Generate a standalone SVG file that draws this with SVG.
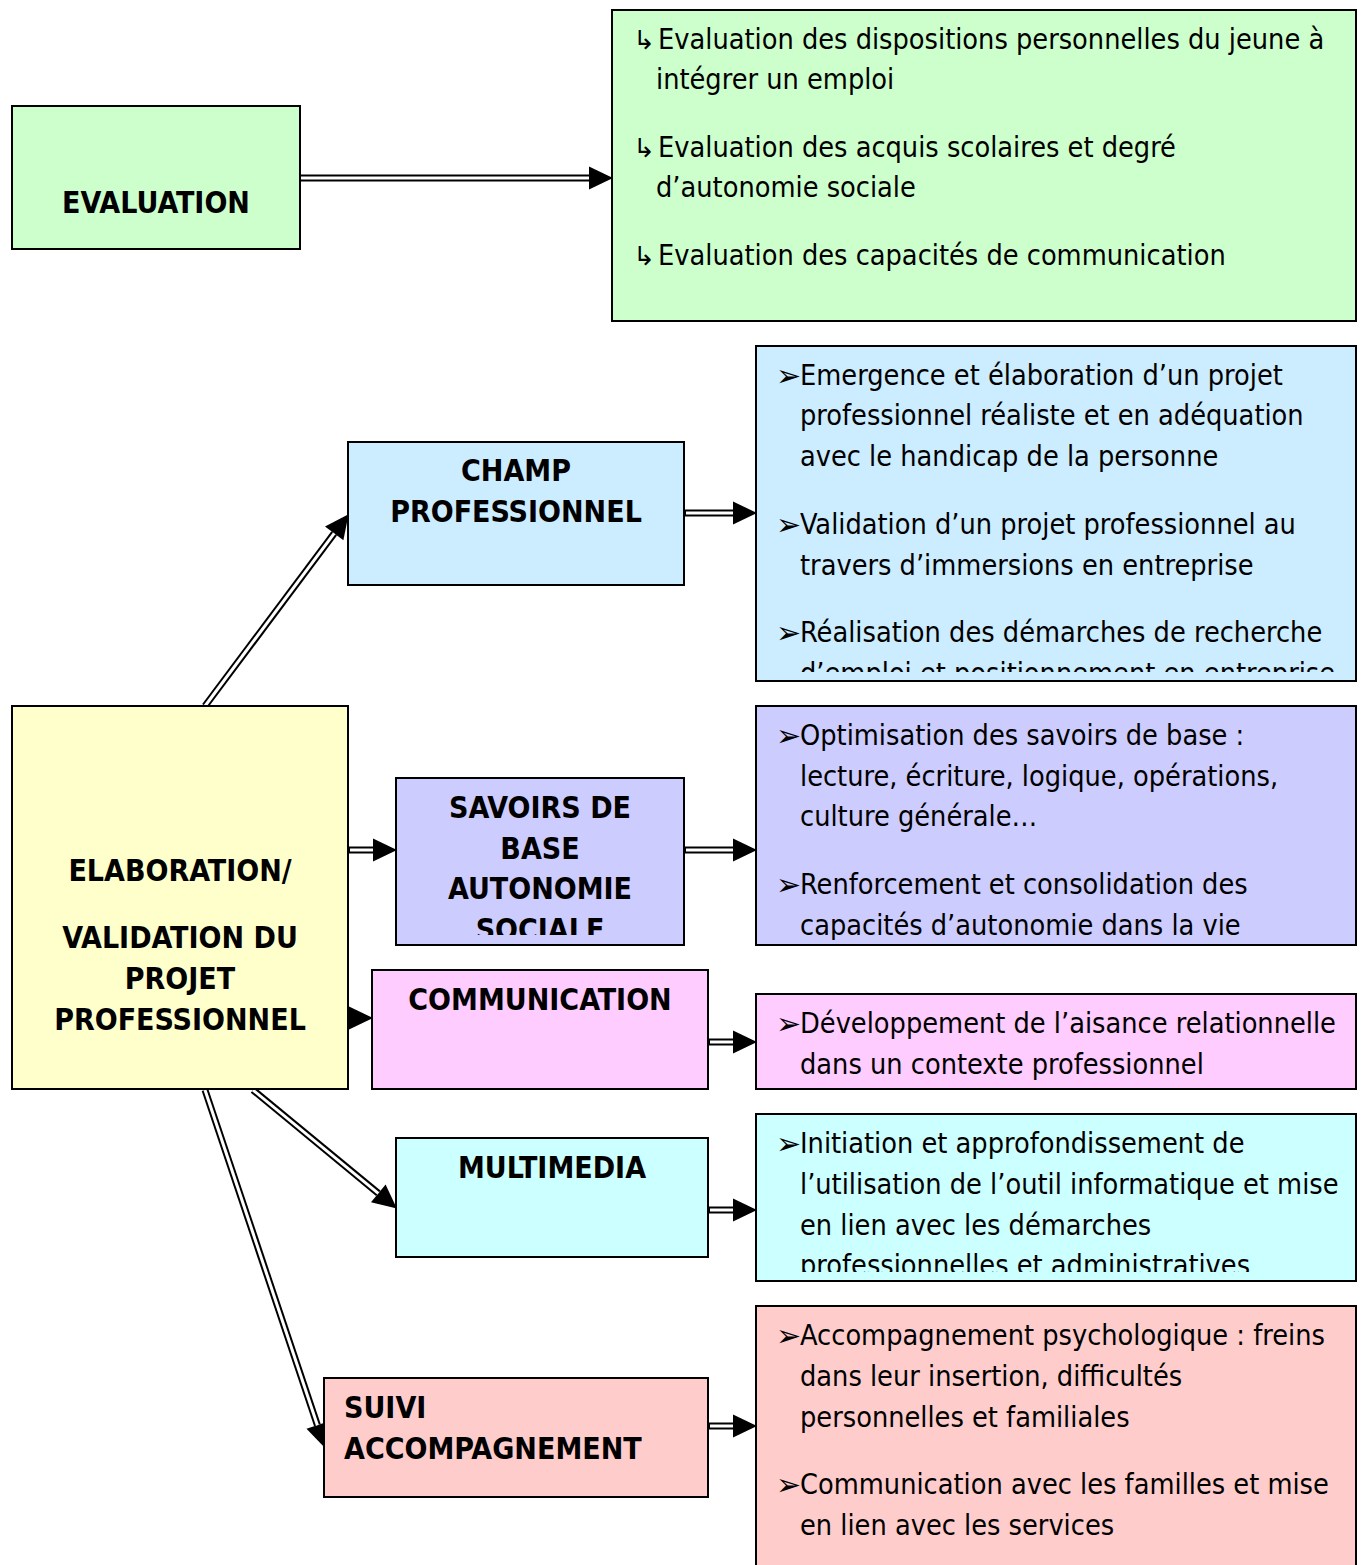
<svg xmlns="http://www.w3.org/2000/svg" width="1362" height="1565" viewBox="0 0 1362 1565">
<style>
.box{stroke:#000;stroke-width:2}
.t{font-family:"DejaVu Sans","Liberation Sans",sans-serif;font-weight:bold;font-size:30px;fill:#000;text-anchor:middle;font-stretch:condensed}
.tl{text-anchor:start}
.d{font-family:"DejaVu Sans","Liberation Sans",sans-serif;font-size:28.6px;fill:#000;font-stretch:condensed}
.b{font-family:"DejaVu Sans",sans-serif;font-size:30px;fill:#000}
.g{font-family:"DejaVu Sans",sans-serif;font-size:26px;fill:#000}
.ob{stroke:#000;stroke-width:7;fill:none}
.iw{stroke:#fff;stroke-width:3;fill:none}
</style>
<defs>
<marker id="ah" markerUnits="userSpaceOnUse" markerWidth="24" markerHeight="24" refX="0" refY="0" viewBox="0 -12 24 24" orient="auto" overflow="visible">
<path d="M0,-11.5 L24,0 L0,11.5 Z" fill="#000"/>
</marker>
<clipPath id="c-eval"><rect x="613" y="11" width="742" height="302"/></clipPath>
<clipPath id="c-champ"><rect x="757" y="347" width="598" height="325"/></clipPath>
<clipPath id="c-sav"><rect x="757" y="707" width="598" height="233"/></clipPath>
<clipPath id="c-savt"><rect x="397" y="779" width="286" height="156"/></clipPath>
<clipPath id="c-multi"><rect x="757" y="1115" width="598" height="157"/></clipPath>
</defs>

<g id="connectors">
<path class="ob" d="M300,178 H589" marker-end="url(#ah)"/><path class="iw" d="M300,178 H589"/>
<path class="ob" d="M684,513 H733" marker-end="url(#ah)"/><path class="iw" d="M686,513 H733"/>
<path class="ob" d="M348,850 H373" marker-end="url(#ah)"/><path class="iw" d="M350,850 H373"/>
<path class="ob" d="M684,850 H733" marker-end="url(#ah)"/><path class="iw" d="M686,850 H733"/>
<path class="ob" d="M348,1018 H349" marker-end="url(#ah)"/>
<path class="ob" d="M708,1042 H733" marker-end="url(#ah)"/><path class="iw" d="M710,1042 H733"/>
<path class="ob" d="M708,1210 H733" marker-end="url(#ah)"/><path class="iw" d="M710,1210 H733"/>
<path class="ob" d="M708,1426 H733" marker-end="url(#ah)"/><path class="iw" d="M710,1426 H733"/>
<path class="ob" d="M205,706 L334.2,533.4" marker-end="url(#ah)"/><path class="iw" d="M205,706 L334.2,533.4"/>
<path class="ob" d="M253,1090 L378.3,1193.3" marker-end="url(#ah)"/><path class="iw" d="M253,1090 L378.3,1193.3"/>
<path class="ob" d="M205,1090 L317.4,1425.2" marker-end="url(#ah)"/><path class="iw" d="M205,1090 L317.4,1425.2"/>
</g>

<g id="evaluation">
<rect class="box" x="12" y="106" width="288" height="143" fill="#CCFFCC"/>
<text class="t" x="156" y="213">EVALUATION</text>
</g>

<g id="evaluation-details">
<rect class="box" x="612" y="10" width="744" height="311" fill="#CCFFCC"/>
<g clip-path="url(#c-eval)">
<text class="g" x="633" y="49">↳</text><text class="d" x="658" y="49">Evaluation des dispositions personnelles du jeune à</text>
<text class="d" x="656" y="89">intégrer un emploi</text>
<text class="g" x="633" y="157">↳</text><text class="d" x="658" y="157">Evaluation des acquis scolaires et degré</text>
<text class="d" x="656" y="197">d’autonomie sociale</text>
<text class="g" x="633" y="265">↳</text><text class="d" x="658" y="265">Evaluation des capacités de communication</text>
</g>
</g>

<g id="champ">
<rect class="box" x="348" y="442" width="336" height="143" fill="#CCECFF"/>
<text class="t" x="516" y="481">CHAMP</text>
<text class="t" x="516" y="522">PROFESSIONNEL</text>
</g>

<g id="champ-details">
<rect class="box" x="756" y="346" width="600" height="335" fill="#CCECFF"/>
<g clip-path="url(#c-champ)">
<text class="b" x="776" y="386">➢</text><text class="d" x="800" y="385">Emergence et élaboration d’un projet</text>
<text class="d" x="800" y="425">professionnel réaliste et en adéquation</text>
<text class="d" x="800" y="466">avec le handicap de la personne</text>
<text class="b" x="776" y="535">➢</text><text class="d" x="800" y="534">Validation d’un projet professionnel au</text>
<text class="d" x="800" y="575">travers d’immersions en entreprise</text>
<text class="b" x="776" y="643">➢</text><text class="d" x="800" y="642">Réalisation des démarches de recherche</text>
<text class="d" x="800" y="683">d’emploi et positionnement en entreprise</text>
</g>
</g>

<g id="elaboration">
<rect class="box" x="12" y="706" width="336" height="383" fill="#FFFFCC"/>
<text class="t" x="180" y="881">ELABORATION/</text>
<text class="t" x="180" y="948">VALIDATION DU</text>
<text class="t" x="180" y="989">PROJET</text>
<text class="t" x="180" y="1030">PROFESSIONNEL</text>
</g>

<g id="savoirs">
<rect class="box" x="396" y="778" width="288" height="167" fill="#CCCCFF"/>
<g clip-path="url(#c-savt)">
<text class="t" x="540" y="818">SAVOIRS DE</text>
<text class="t" x="540" y="859">BASE</text>
<text class="t" x="540" y="899">AUTONOMIE</text>
<text class="t" x="540" y="940">SOCIALE</text>
</g>
</g>

<g id="savoirs-details">
<rect class="box" x="756" y="706" width="600" height="239" fill="#CCCCFF"/>
<g clip-path="url(#c-sav)">
<text class="b" x="776" y="746">➢</text><text class="d" x="800" y="745">Optimisation des savoirs de base :</text>
<text class="d" x="800" y="786">lecture, écriture, logique, opérations,</text>
<text class="d" x="800" y="826">culture générale…</text>
<text class="b" x="776" y="895">➢</text><text class="d" x="800" y="894">Renforcement et consolidation des</text>
<text class="d" x="800" y="935">capacités d’autonomie dans la vie</text>
</g>
</g>

<g id="communication">
<rect class="box" x="372" y="970" width="336" height="119" fill="#FFCCFF"/>
<text class="t" x="540" y="1010">COMMUNICATION</text>
</g>

<g id="communication-details">
<rect class="box" x="756" y="994" width="600" height="95" fill="#FFCCFF"/>
<text class="b" x="776" y="1034">➢</text><text class="d" x="800" y="1033">Développement de l’aisance relationnelle</text>
<text class="d" x="800" y="1074">dans un contexte professionnel</text>
</g>

<g id="multimedia">
<rect class="box" x="396" y="1138" width="312" height="119" fill="#CCFFFF"/>
<text class="t" x="552" y="1178">MULTIMEDIA</text>
</g>

<g id="multimedia-details">
<rect class="box" x="756" y="1114" width="600" height="167" fill="#CCFFFF"/>
<g clip-path="url(#c-multi)">
<text class="b" x="776" y="1154">➢</text><text class="d" x="800" y="1153">Initiation et approfondissement de</text>
<text class="d" x="800" y="1194">l’utilisation de l’outil informatique et mise</text>
<text class="d" x="800" y="1235">en lien avec les démarches</text>
<text class="d" x="800" y="1275">professionnelles et administratives</text>
</g>
</g>

<g id="suivi">
<rect class="box" x="324" y="1378" width="384" height="119" fill="#FFCCCC"/>
<text class="t tl" x="344" y="1418">SUIVI</text>
<text class="t tl" x="344" y="1459">ACCOMPAGNEMENT</text>
</g>

<g id="suivi-details">
<rect class="box" x="756" y="1306" width="600" height="270" fill="#FFCCCC"/>
<text class="b" x="776" y="1346">➢</text><text class="d" x="800" y="1345">Accompagnement psychologique : freins</text>
<text class="d" x="800" y="1386">dans leur insertion, difficultés</text>
<text class="d" x="800" y="1427">personnelles et familiales</text>
<text class="b" x="776" y="1495">➢</text><text class="d" x="800" y="1494">Communication avec les familles et mise</text>
<text class="d" x="800" y="1535">en lien avec les services</text>
</g>
</svg>
